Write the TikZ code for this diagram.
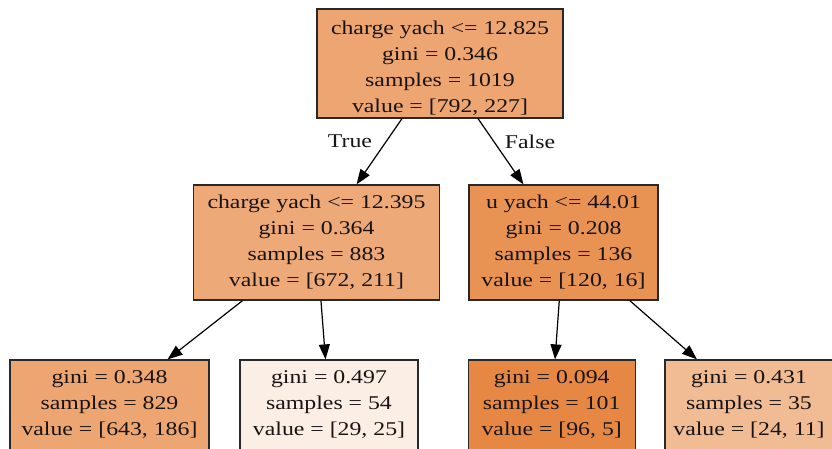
\documentclass[tikz,border=0pt]{standalone}
\usepackage{fontspec}
\setmainfont{Liberation Serif}[FakeStretch=1.22]
\usetikzlibrary{arrows.meta}
\definecolor{croot}{RGB}{237,165,114}
\definecolor{cleftmid}{RGB}{237,169,119}
\definecolor{crightmid}{RGB}{232,146,83}
\definecolor{cll}{RGB}{237,165,114}
\definecolor{clr}{RGB}{251,238,228}
\definecolor{crl}{RGB}{230,136,67}
\definecolor{crr}{RGB}{241,187,148}
\definecolor{edgegray}{RGB}{40,40,40}
\definecolor{txt}{RGB}{25,20,20}
\begin{document}
\begin{tikzpicture}[x=1pt,y=-1pt,
  tn/.style={draw=edgegray, line width=1.2pt, rectangle, align=center, inner sep=0pt,
    font=\fontsize{19.5}{26}\selectfont, text=txt},
  tt/.style={align=center, inner sep=0pt, font=\fontsize{19.5}{26}\selectfont, text=txt},
  ed/.style={draw=black, -{Triangle[length=15pt,width=11pt]}, line width=1.2pt},
  el/.style={font=\fontsize{19.5}{26}\selectfont, text=txt}]
\useasboundingbox (0,0) rectangle (832,448);
\clip (0,0) rectangle (832,448);
\node[tn, fill=croot, minimum width=246pt, minimum height=109pt] (root) at (440,63.5) {};
\node[tt] (roottext) at (440,68)
  {charge yach <= 12.825\\gini = 0.346\\samples = 1019\\value = [792, 227]};
\node[tn, fill=cleftmid, minimum width=246pt, minimum height=115pt] (lm) at (316.5,242.5)
  {charge yach <= 12.395\\gini = 0.364\\samples = 883\\value = [672, 211]};
\node[tn, fill=crightmid, minimum width=189pt, minimum height=115pt] (rm) at (563.5,242.5)
  {u yach <= 44.01\\gini = 0.208\\samples = 136\\value = [120, 16]};
\node[tn, fill=cll, minimum width=199pt, minimum height=90pt] (ll) at (109.5,405)
  {gini = 0.348\\samples = 829\\value = [643, 186]};
\node[tn, fill=clr, minimum width=178pt, minimum height=90pt] (lr) at (329,405)
  {gini = 0.497\\samples = 54\\value = [29, 25]};
\node[tn, fill=crl, minimum width=167pt, minimum height=90pt] (rl) at (551.7,405)
  {gini = 0.094\\samples = 101\\value = [96, 5]};
\node[tn, fill=crr, minimum width=168pt, minimum height=90pt] (rr) at (749,405)
  {gini = 0.431\\samples = 35\\value = [24, 11]};
\draw[ed] (root) -- (lm);
\draw[ed] (root) -- (rm);
\draw[ed] (lm) -- (ll);
\draw[ed] (lm) -- (lr);
\draw[ed] (rm) -- (rl);
\draw[ed] (rm) -- (rr);
\node[el] (ltrue) at (350,141.5) {True};
\node[el] (lfalse) at (530,141.5) {False};
\end{tikzpicture}
\end{document}
